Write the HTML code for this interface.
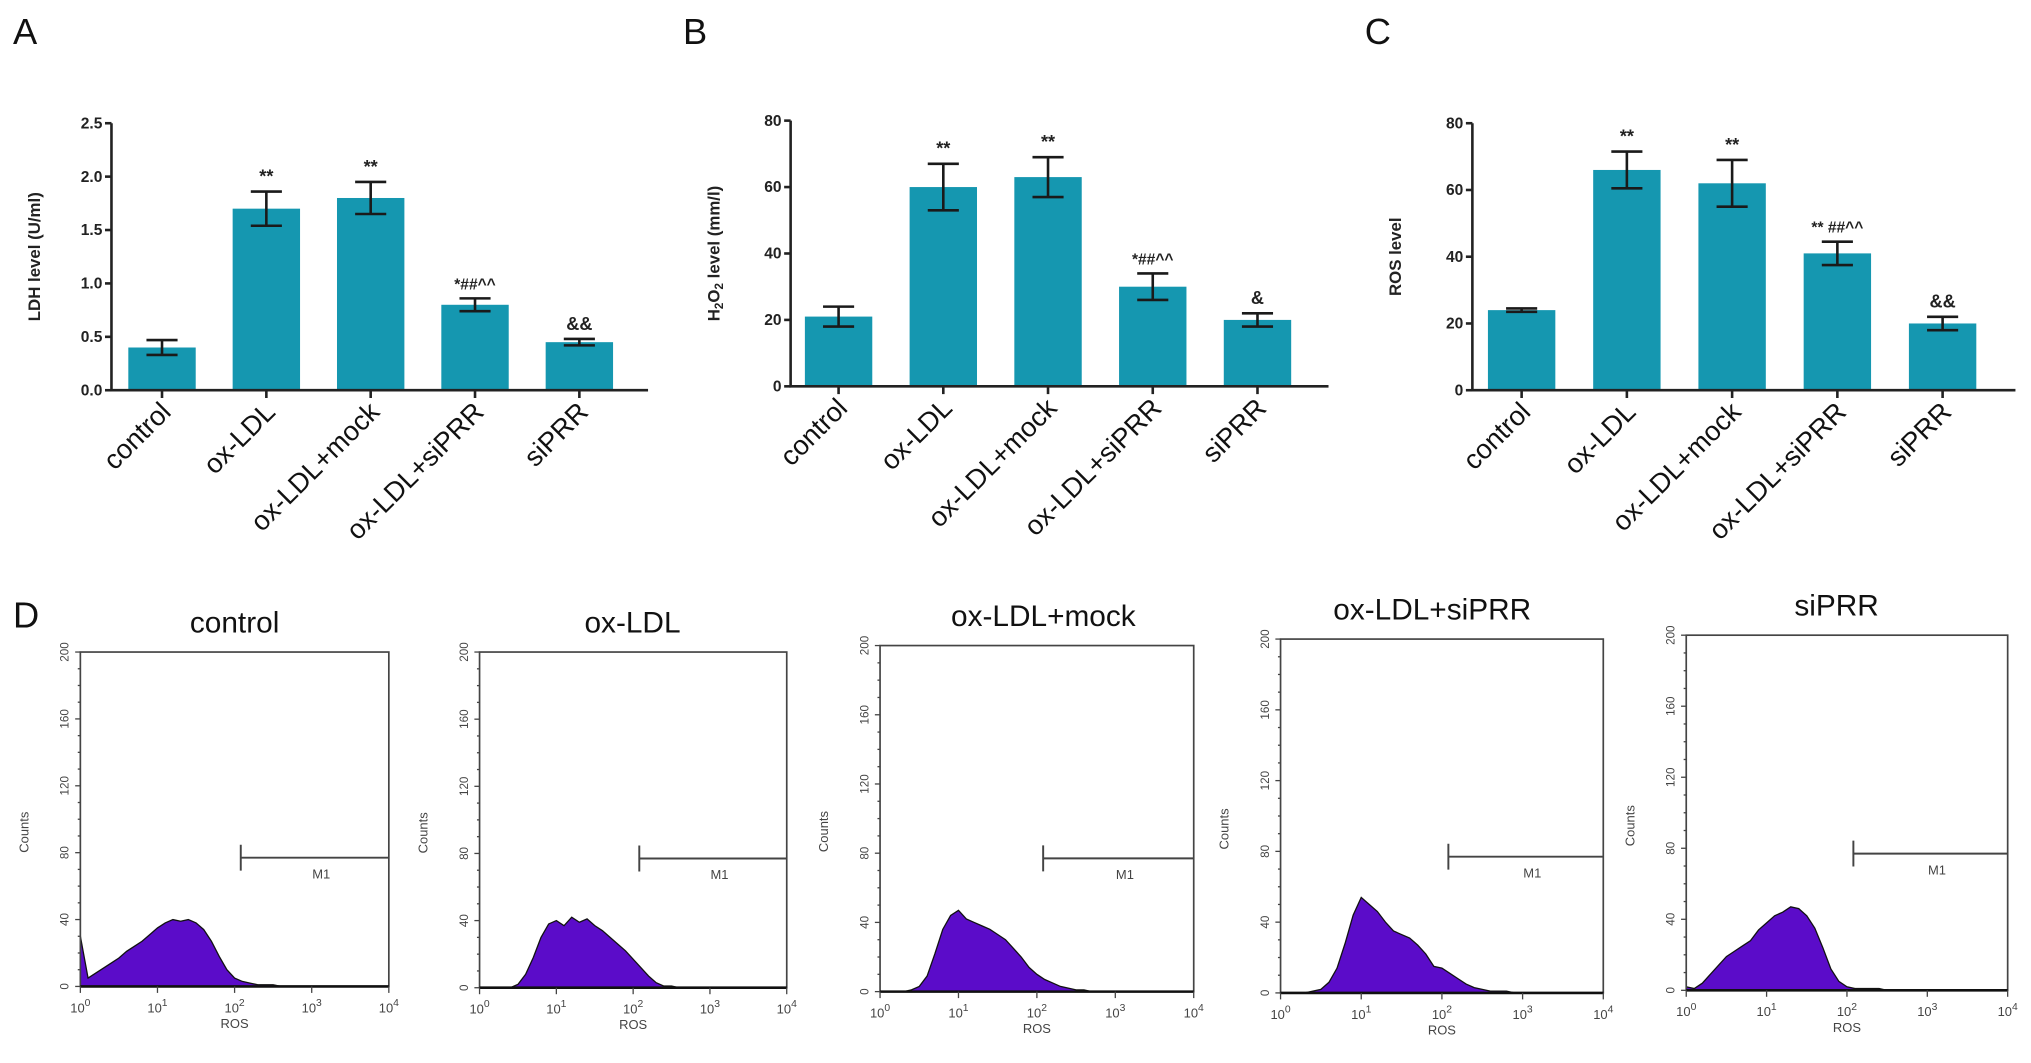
<!DOCTYPE html>
<html><head><meta charset="utf-8"><style>
html,body{margin:0;padding:0;background:#fff;}
svg{display:block;font-family:"Liberation Sans",sans-serif;}
</style></head><body>
<svg id="fig" width="2031" height="1063" viewBox="0 0 1567 820" xmlns="http://www.w3.org/2000/svg">
<rect width="1567" height="820" fill="#fff"/>
</svg>
<script>
const NS="http://www.w3.org/2000/svg";
const svg=document.getElementById('fig');
function el(t,a,p){const e=document.createElementNS(NS,t);for(const k in a)e.setAttribute(k,a[k]);(p||svg).appendChild(e);return e;}
function tx(s,a,p){const e=el('text',a,p);e.textContent=s;return e;}

// ---- bar chart data ----
const categories=["control","ox-LDL","ox-LDL+mock","ox-LDL+siPRR","siPRR"];
const ldhValues=[0.40,1.70,1.80,0.80,0.45];
const ldhErrors=[0.07,0.16,0.15,0.06,0.03];
const ldhMarks=["","**","**","*##^^","&&"];
const ldhTicks=[0,0.5,1.0,1.5,2.0,2.5];
const h2o2Values=[21,60,63,30,20];
const h2o2Errors=[3,7,6,4,2];
const h2o2Marks=["","**","**","*##^^","&"];
const h2o2Ticks=[0,20,40,60,80];
const rosValues=[24,66,62,41,20];
const rosErrors=[0.5,5.5,7,3.5,2];
const rosMarks=["","**","**","** ##^^","&&"];
const rosTicks=[0,20,40,60,80];

const barPanels=[
 {name:'ldh',letter:'A',lx:10,ax:86,x1:500,y0:301,yt:95,max:2.5,dec:1,title:'LDH level (U/ml)',values:ldhValues,errors:ldhErrors,marks:ldhMarks,ticks:ldhTicks,c0:125,step:80.5},
 {name:'h2o2',letter:'B',lx:527,ax:610,x1:1025,y0:298,yt:93,max:80,dec:0,title:'H2O2',values:h2o2Values,errors:h2o2Errors,marks:h2o2Marks,ticks:h2o2Ticks,c0:647,step:80.8},
 {name:'ros',letter:'C',lx:1053,ax:1136,x1:1555,y0:301,yt:95,max:80,dec:0,title:'ROS level',values:rosValues,errors:rosErrors,marks:rosMarks,ticks:rosTicks,c0:1174,step:81.2}
];
barPanels.forEach(P=>{
 const g=el('g',{});
 
 
 const L=tx(P.letter,{x:P.lx,y:34,'font-size':28,fill:'#111'},g);
 
 
 const ys=v=>P.y0-(v/P.max)*(P.y0-P.yt);
 const xs=i=>P.c0+i*P.step;
 // bars
 P.values.forEach((v,i)=>{
  const b=el('rect',{x:xs(i)-26,y:ys(v),width:52,height:P.y0-ys(v),fill:'#1597b0'},g);
  
  
  const e=P.errors[i],top=ys(v+e),bot=ys(v-e);
  const eb=el('path',{d:`M${xs(i)} ${top}V${bot}M${xs(i)-12} ${top}H${xs(i)+12}M${xs(i)-12} ${bot}H${xs(i)+12}`,stroke:'#1a1a1a','stroke-width':2,fill:'none'},g);
  
  
  if(P.marks[i]){
   const m=tx(P.marks[i],{x:xs(i),y:top-7,'text-anchor':'middle','font-size':P.marks[i].length>2?12:14,'font-weight':'bold',fill:'#222'},g);
   
   
  }
  const lab=tx(categories[i],{transform:`translate(${xs(i)+8},${P.y0+18}) rotate(-45)`,'text-anchor':'end','font-size':21,fill:'#111'},g);
  
  
  el('line',{x1:xs(i),x2:xs(i),y1:P.y0,y2:P.y0+6,stroke:'#222','stroke-width':2},g);
 });
 // axes
 el('path',{d:`M${P.ax} ${P.yt}V${P.y0}H${P.x1}`,stroke:'#222','stroke-width':2,fill:'none'},g);
 P.ticks.forEach(t=>{
  el('line',{x1:P.ax-5,x2:P.ax,y1:ys(t),y2:ys(t),stroke:'#222','stroke-width':2},g);
  const tl=tx(t.toFixed(P.dec),{x:P.ax-7,y:ys(t)+4,'text-anchor':'end','font-size':12,'font-weight':'bold',fill:'#222'},g);
  
  
 });
 const cy=(P.y0+P.yt)/2, cx=P.ax-55;
 let yt;
 if(P.title==='H2O2'){
  yt=el('text',{transform:`translate(${cx},${cy}) rotate(-90)`,'text-anchor':'middle','font-size':13,'font-weight':'bold',fill:'#222'},g);
  yt.innerHTML='H<tspan font-size="9" dy="3">2</tspan><tspan dy="-3">O</tspan><tspan font-size="9" dy="3">2</tspan><tspan dy="-3"> level (mm/l)</tspan>';
 } else {
  yt=tx(P.title,{transform:`translate(${cx},${cy}) rotate(-90)`,'text-anchor':'middle','font-size':13,'font-weight':'bold',fill:'#222'},g);
 }
 
 
});

// ---- flow histograms (counts at log10 ROS = 0,0.1,...,4.0) ----
const histTitles=["control","ox-LDL","ox-LDL+mock","ox-LDL+siPRR","siPRR"];
const histControl=[30,5,8,11,14,17,21,24,27,31,35,38,40,39,40,38,34,27,18,10,5,3,2,1,1,1,0,0,0,0,0,0,0,0,0,0,0,0,0,0,0];
const histOxLDL=[0,0,0,0,0,2,8,18,30,38,40,37,42,39,41,37,34,30,26,22,17,12,7,3,1,1,0,0,0,0,0,0,0,0,0,0,0,0,0,0,0];
const histMock=[0,0,0,0,1,3,9,22,36,44,47,42,40,38,36,33,30,25,20,14,10,7,5,3,2,1,1,0,0,0,0,0,0,0,0,0,0,0,0,0,0];
const histSiPRRox=[0,0,0,0,1,2,6,14,28,44,54,50,46,40,35,33,31,27,22,15,14,11,8,5,3,2,1,1,1,0,0,0,0,0,0,0,0,0,0,0,0];
const histSiPRR=[2,1,4,9,14,19,22,25,28,34,38,42,44,47,46,42,35,24,12,5,2,1,1,1,1,0,0,0,0,0,0,0,0,0,0,0,0,0,0,0,0];
const histData=[histControl,histOxLDL,histMock,histSiPRRox,histSiPRR];
const countTicks=[0,40,80,120,160,200];
const logTicks=[0,1,2,3,4];
const histBoxes=[
 {x0:62,x1:300,yt:503,y0:761,tx:181},
 {x0:370,x1:607,yt:503,y0:762,tx:488},
 {x0:679,x1:921,yt:498,y0:765,tx:805},
 {x0:988,x1:1237,yt:493,y0:766,tx:1105},
 {x0:1301,x1:1549,yt:490,y0:764,tx:1417}
];
tx('D',{x:10,y:484,'font-size':28,fill:'#111'});
histData.forEach((d,k)=>{
 const B=histBoxes[k];
 const g=el('g',{});
 
 
 const xs=l=>B.x0+l/4*(B.x1-B.x0);
 const ys=c=>B.y0-c/200*(B.y0-B.yt);
 const t=tx(histTitles[k],{x:B.tx,y:B.yt-15,'text-anchor':'middle','font-size':23,fill:'#111'},g);
 
 
 let p=`M${xs(0)} ${ys(0)}`;
 d.forEach((c,i)=>{p+=`L${xs(i*0.1)} ${ys(c)}`;});
 p+=`L${xs(4)} ${ys(0)}Z`;
 const a=el('path',{d:p,fill:'#5b0cc9',stroke:'#111','stroke-width':1},g);
 
 
 el('rect',{x:B.x0,y:B.yt,width:B.x1-B.x0,height:B.y0-B.yt,fill:'none',stroke:'#444','stroke-width':1.3},g);
 el('line',{x1:B.x0,x2:B.x1,y1:B.y0,y2:B.y0,stroke:'#111','stroke-width':2},g);
 countTicks.forEach(c=>{
  el('line',{x1:B.x0-4,x2:B.x0,y1:ys(c),y2:ys(c),stroke:'#444'},g);
  const l=tx(String(c),{transform:`translate(${B.x0-9},${ys(c)}) rotate(-90)`,'text-anchor':'middle','font-size':9,fill:'#444'},g);
  
  
 });
 for(let c=10;c<200;c+=10){ if(c%40) el('line',{x1:B.x0-2,x2:B.x0,y1:ys(c),y2:ys(c),stroke:'#444'},g); }
 logTicks.forEach(l=>{
  el('line',{x1:xs(l),x2:xs(l),y1:B.y0,y2:B.y0+5,stroke:'#444'},g);
  const lt=el('text',{x:xs(l),y:B.y0+20,'text-anchor':'middle','font-size':10,fill:'#444'},g);
  lt.innerHTML=`10<tspan font-size="8" dy="-5">${l}</tspan>`;
  
  
 });
 tx('ROS',{x:(B.x0+B.x1)/2,y:B.y0+32,'text-anchor':'middle','font-size':10,fill:'#444'},g);
 tx('Counts',{transform:`translate(${B.x0-40},${(B.yt+B.y0)/2+10}) rotate(-90)`,'text-anchor':'middle','font-size':10,fill:'#444'},g);
 const my=ys(77), mx=xs(2.08);
 const m=el('path',{d:`M${mx} ${my-10}V${my+10}M${mx} ${my}H${B.x1}`,stroke:'#444','stroke-width':1.5,fill:'none'},g);
 
 
 tx('M1',{x:(mx+B.x1)/2+5,y:my+16,'text-anchor':'middle','font-size':10,fill:'#444'},g);
});
</script>
</body></html>
